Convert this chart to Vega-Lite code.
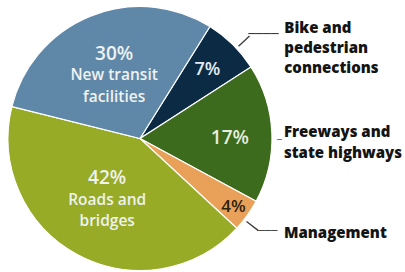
{
  "$schema": "https://vega.github.io/schema/vega-lite/v6.json",
  "width": 280,
  "height": 277,
  "autosize": {"type": "none"},
  "padding": {"left": 0, "top": 0, "right": 125, "bottom": 0},
  "background": "#ffffff",
  "config": {"view": {"stroke": null}},
  "data": {
    "values": [
      {"category": "Bike and pedestrian connections", "value": 7, "order": 1, "pct": "7%", "label": "Bike and\npedestrian\nconnections"},
      {"category": "Freeways and state highways", "value": 17, "order": 2, "pct": "17%", "label": "Freeways and\nstate highways"},
      {"category": "Management", "value": 4, "order": 3, "pct": "4%", "label": "Management"},
      {"category": "Roads and bridges", "value": 42, "order": 4, "pct": "42%", "label": "Roads and\nbridges"},
      {"category": "New transit facilities", "value": 30, "order": 5, "pct": "30%", "label": "New transit\nfacilities"}
    ]
  },
  "encoding": {
    "theta": {"field": "value", "type": "quantitative", "stack": true, "scale": {"range": [0.5585, 6.8417]}},
    "order": {"field": "order", "type": "quantitative", "sort": "ascending"}
  },
  "layer": [
    {
      "mark": {"type": "arc", "radius": 132, "stroke": "#ffffff", "strokeWidth": 1.2},
      "encoding": {
        "color": {
          "field": "category", "type": "nominal", "legend": null,
          "scale": {
            "domain": ["Bike and pedestrian connections", "Freeways and state highways", "Management", "Roads and bridges", "New transit facilities"],
            "range": ["#0b2b45", "#3d6b1e", "#e9a15a", "#98ab27", "#5f87a8"]
          }
        }
      }
    },
    {
      "mark": {"type": "arc", "radius": 150, "radius2": 135, "padAngle": 1.3, "filled": false, "stroke": "#3c3c3c", "strokeWidth": 1.3, "thetaOffset": 0.04, "theta2Offset": 0.04},
      "encoding": {
        "strokeOpacity": {"condition": {"test": "datum.order == 1 || datum.order == 3", "value": 1}, "value": 0}
      }
    },
    {
      "mark": {"type": "text", "radius": 96, "font": "Open Sans", "fontSize": 18, "fontWeight": 600, "fill": "#e4ecf2", "align": "center", "baseline": "middle"},
      "encoding": {
        "text": {"field": "pct", "type": "nominal"},
        "opacity": {"condition": {"test": "datum.order == 1", "value": 1}, "value": 0}
      }
    },
    {
      "mark": {"type": "text", "radius": 90, "dy": 3, "font": "Open Sans", "fontSize": 19, "fontWeight": 600, "fill": "#e6eedd", "align": "center", "baseline": "middle"},
      "encoding": {
        "text": {"field": "pct", "type": "nominal"},
        "opacity": {"condition": {"test": "datum.order == 2", "value": 1}, "value": 0}
      }
    },
    {
      "mark": {"type": "text", "radius": 115, "dy": 1.5, "font": "Open Sans", "fontSize": 17, "fontWeight": 600, "fill": "#2c2410", "align": "center", "baseline": "middle"},
      "encoding": {
        "text": {"field": "pct", "type": "nominal"},
        "opacity": {"condition": {"test": "datum.order == 3", "value": 1}, "value": 0}
      }
    },
    {
      "mark": {"type": "text", "radius": 69, "dy": -21, "font": "Open Sans", "fontSize": 19, "fontWeight": 600, "fill": "#eef2f0", "align": "center", "baseline": "middle"},
      "encoding": {
        "text": {"field": "pct", "type": "nominal"},
        "opacity": {"condition": {"test": "datum.order == 4 || datum.order == 5", "value": 1}, "value": 0}
      }
    },
    {
      "mark": {"type": "text", "radius": 69, "dy": 0.5, "font": "Open Sans", "fontSize": 15.5, "fontWeight": 600, "fill": "#eef2f0", "align": "center", "baseline": "middle", "lineBreak": "\n", "lineHeight": 21.5},
      "encoding": {
        "text": {"field": "label", "type": "nominal"},
        "opacity": {"condition": {"test": "datum.order == 4 || datum.order == 5", "value": 1}, "value": 0}
      }
    },
    {
      "mark": {"type": "text", "radius": 130, "dx": 53, "dy": -18, "font": "Open Sans", "fontSize": 15, "fontWeight": 800, "fill": "#141414", "align": "left", "baseline": "middle", "lineBreak": "\n", "lineHeight": 20},
      "encoding": {
        "text": {"field": "label", "type": "nominal"},
        "opacity": {"condition": {"test": "datum.order == 1", "value": 1}, "value": 0}
      }
    },
    {
      "mark": {"type": "text", "radius": 143, "dx": 1, "dy": -1, "font": "Open Sans", "fontSize": 15, "fontWeight": 800, "fill": "#141414", "align": "left", "baseline": "middle", "lineBreak": "\n", "lineHeight": 21},
      "encoding": {
        "text": {"field": "label", "type": "nominal"},
        "opacity": {"condition": {"test": "datum.order == 2", "value": 1}, "value": 0}
      }
    },
    {
      "mark": {"type": "text", "radius": 150, "dx": 22, "dy": 7, "font": "Open Sans", "fontSize": 15, "fontWeight": 800, "fill": "#141414", "align": "left", "baseline": "middle"},
      "encoding": {
        "text": {"field": "label", "type": "nominal"},
        "opacity": {"condition": {"test": "datum.order == 3", "value": 1}, "value": 0}
      }
    },
    {
      "mark": {"type": "text", "radius": 150, "dx": 3, "dy": 2.6, "font": "DejaVu Sans", "fontSize": 12.5, "fill": "#3c3c3c", "align": "left", "baseline": "middle"},
      "encoding": {
        "text": {"value": "────"},
        "opacity": {"condition": {"test": "datum.order == 1", "value": 1}, "value": 0}
      }
    },
    {
      "mark": {"type": "text", "radius": 150, "dx": -3.7, "dy": 5.5, "font": "DejaVu Sans", "fontSize": 10.5, "fill": "#3c3c3c", "align": "left", "baseline": "middle"},
      "encoding": {
        "text": {"value": "───"},
        "opacity": {"condition": {"test": "datum.order == 3", "value": 1}, "value": 0}
      }
    },
    {
      "mark": {"type": "text", "radius": 143, "dx": -6, "dy": 7, "font": "DejaVu Sans", "fontSize": 8, "fill": "#3c3c3c", "align": "left", "baseline": "middle"},
      "encoding": {
        "text": {"value": "─"},
        "opacity": {"condition": {"test": "datum.order == 2", "value": 1}, "value": 0}
      }
    }
  ]
}
